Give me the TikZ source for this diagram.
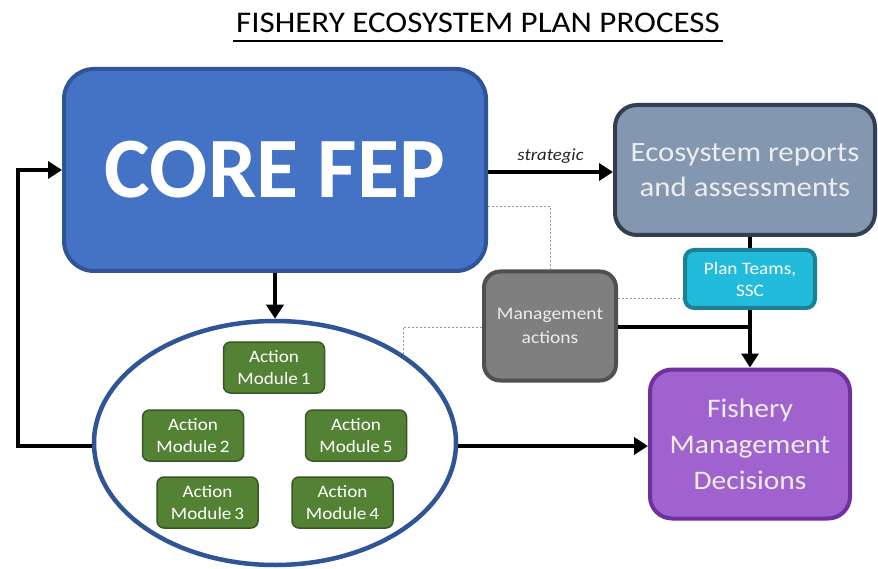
\documentclass[tikz,border=0pt]{standalone}
\usepackage{fontspec}
\setmainfont{Carlito}
\newfontfamily\wide{Carlito}[FakeStretch=1.1]
\usetikzlibrary{arrows.meta,shapes.geometric}
\definecolor{coreblue}{HTML}{4472C4}
\definecolor{coreedge}{HTML}{2F5597}
\definecolor{ecofill}{HTML}{8497B0}
\definecolor{ecoedge}{HTML}{333F50}
\definecolor{fmfill}{HTML}{A062CF}
\definecolor{fmedge}{HTML}{7030A0}
\definecolor{ptfill}{HTML}{23BBDC}
\definecolor{ptedge}{HTML}{1B8296}
\definecolor{mafill}{HTML}{7F7F7F}
\definecolor{maedge}{HTML}{505050}
\definecolor{amfill}{HTML}{548235}
\definecolor{amedge}{HTML}{385723}
\definecolor{lighttext}{HTML}{EDEDED}
\tikzset{
  box/.style={rounded corners=#1, line width=4pt, inner sep=0pt, align=center},
  amod/.style={draw=amedge, fill=amfill, rounded corners=7pt, line width=1.5pt,
    minimum width=101pt, minimum height=51pt, inner sep=0pt, align=center,
    text=white, font=\wide\fontsize{17.4}{22}\selectfont},
  flow/.style={line width=4pt, -{Triangle[length=14pt,width=17pt]}},
  thick line/.style={line width=4pt},
  dots/.style={draw=gray!80, line width=0.8pt, dash pattern=on 2pt off 2pt}
}
\begin{document}
\begin{tikzpicture}[x=1pt,y=-1pt]
\useasboundingbox (0,0) rectangle (878,569);
\fill[white] (0,0) rectangle (878,569);
% title
\node[anchor=base, font=\wide\fontsize{30}{32}\selectfont] (title) at (478,33) {FISHERY ECOSYSTEM PLAN PROCESS};
\path (title.base west) ++(0,8) coordinate (ulA);
\path (title.base east) ++(0,8) coordinate (ulB);
\draw[line width=1.6pt] (ulA) -- (ulB);
% core
\node[box=30pt, draw=coreedge, fill=coreblue, minimum width=422pt, minimum height=202pt,
  text=white, font=\fontsize{86}{90}\bfseries\selectfont] (core) at (275,170) {CORE FEP};
% ecosystem reports
\node[box=22pt, draw=ecoedge, fill=ecofill, minimum width=260pt, minimum height=130pt,
  text=lighttext, font=\wide\fontsize{28}{35}\selectfont] (eco) at (745,170) {Ecosystem reports\\and assessments};
% plan teams
\node[box=9pt, draw=ptedge, fill=ptfill, minimum width=130pt, minimum height=58pt,
  text=white, font=\wide\fontsize{17.5}{22}\selectfont] (pt) at (750,279) {Plan Teams,\\SSC};
% management actions
\node[box=16pt, draw=maedge, fill=mafill, minimum width=132pt, minimum height=109pt,
  text=lighttext, font=\wide\fontsize{17.7}{24}\selectfont] (ma) at (550,326) {Management\\actions};
% fishery management decisions
\node[box=22pt, draw=fmedge, fill=fmfill, minimum width=200pt, minimum height=149pt,
  text=lighttext, font=\wide\fontsize{26.8}{36}\selectfont] (fm) at (750,444) {Fishery\\Management\\Decisions};
% ellipse
\node[ellipse, draw=coreedge, line width=4.5pt, minimum width=362pt, minimum height=244pt,
  inner sep=0pt] (ell) at (275,443) {};
% action modules
\node[amod] (m1) at (274,367.5) {Action\\Module\,1};
\node[amod] (m2) at (193,435.5) {Action\\Module\,2};
\node[amod] (m5) at (356,435.5) {Action\\Module\,5};
\node[amod] (m3) at (207.5,502.5) {Action\\Module\,3};
\node[amod] (m4) at (342.5,502.5) {Action\\Module\,4};
% coordinates
\coordinate (coreR) at (core.east |- 0,172);
\coordinate (ecoL) at (eco.west |- 0,172);
\coordinate (ellL) at (ell.west |- 0,446);
\coordinate (ellR) at (ell.east |- 0,446);
\coordinate (fmL) at (fm.west |- 0,446);
\coordinate (fbB) at (18,446);
\coordinate (fbT) at (18,170);
\coordinate (coreL) at (core.west |- 0,170);
\coordinate (maR) at (ma.east |- 0,327);
\coordinate (join) at (750,327);
\coordinate (ecoB) at (pt.north |- eco.south);
% solid connectors
\draw[flow] (coreR) -- node[above=3pt, font=\wide\fontsize{17}{19}\itshape\selectfont, text=black!85] (lab) {strategic} (ecoL);
\draw[flow] (core.south) -- (ell.north);
\draw[flow] (ellL) -- (fbB) -- (fbT) -- (coreL);
\draw[flow] (ellR) -- (fmL);
\draw[thick line] (ecoB) -- (pt.north);
\draw[flow] (pt.south) -- (fm.north);
\draw[thick line] (maR) -- (join);
% dotted connectors
\coordinate (d1a) at (core.east |- 0,206);
\coordinate (d1b) at (550,206);
\draw[dots] (d1a) -- (d1b) -- (ma.north);
\coordinate (d2a) at (ma.east |- 0,298);
\coordinate (d2b) at (pt.west |- 0,298);
\draw[dots] (d2a) -- (d2b);
\coordinate (d3a) at (ma.west |- 0,327);
\coordinate (d3b) at (403,327);
\coordinate (d3c) at (403,356);
\draw[dots] (d3a) -- (d3b) -- (d3c);
\end{tikzpicture}
\end{document}
